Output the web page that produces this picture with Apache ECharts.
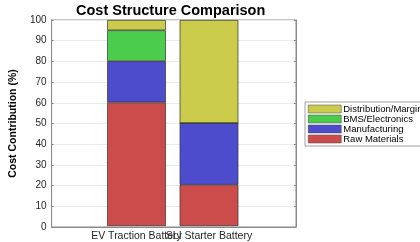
<!DOCTYPE html>
<html><head><meta charset="utf-8">
<script src="https://cdn.jsdelivr.net/npm/echarts@6/dist/echarts.min.js"></script>
<style>html,body{margin:0;padding:0;background:#fff}#c{width:420px;height:242px}</style>
</head><body><div id="c"></div>
<script>
const categories = ['EV Traction Battery', 'SLI Starter Battery'];
const rawMaterials = [60, 20];
const manufacturing = [20, 30];
const bmsElectronics = [15, 0];
const distribution = [5, 50];
const legendOrder = ['Distribution/Margin', 'BMS/Electronics', 'Manufacturing', 'Raw Materials'];

const seriesDefs = [
  { name: 'Raw Materials', data: rawMaterials, color: '#CC4C4C' },
  { name: 'Manufacturing', data: manufacturing, color: '#4C4CCC' },
  { name: 'BMS/Electronics', data: bmsElectronics, color: '#4CCC4C' },
  { name: 'Distribution/Margin', data: distribution, color: '#CCCC4C' }
];

const chart = echarts.init(document.getElementById('c'), null, { renderer: 'canvas' });
const font = 'Liberation Sans, Arial, Helvetica, sans-serif';
const axisCol = '#8a8a8a';
chart.setOption({
  animation: false,
  backgroundColor: '#fff',
  title: {
    text: 'Cost Structure Comparison', left: 72, top: 1, padding: [2, 4, 2, 4],
    textStyle: { fontFamily: font, fontWeight: 'bold', fontSize: 14.5, color: '#000', letterSpacing: 0.2 }
  },
  grid: [
    { left: 49, right: 124, top: 20, bottom: 15, show: true, borderColor: axisCol, borderWidth: 1, backgroundColor: '#fff' },
    { left: 100.25, right: 174.75, top: 20, bottom: 15 }
  ],
  legend: {
    orient: 'vertical', left: 305, top: 102,
    data: legendOrder,
    itemWidth: 33, itemHeight: 8, itemGap: 0, padding: [2, 3, 2, 3],
    borderColor: '#a0a0a0', borderWidth: 1, backgroundColor: '#fff',
    icon: 'rect',
    itemStyle: { borderColor: '#444', borderWidth: 0.5 },
    textStyle: { fontFamily: font, fontSize: 9.5, color: '#000', lineHeight: 10, padding: [0, 0, 0, -3] }
  },
  xAxis: [{
    gridIndex: 0, type: 'value', min: 0, max: 1,
    axisLine: { show: true, lineStyle: { color: axisCol } },
    splitLine: { show: false }, axisTick: { show: false }, axisLabel: { show: false }
  }, {
    gridIndex: 1, type: 'category', data: categories,
    axisLine: { show: false },
    axisTick: { show: true, inside: true, length: 2, alignWithLabel: true, lineStyle: { color: axisCol } },
    axisLabel: { interval: 0, margin: 5, fontFamily: font, fontSize: 10.5, color: '#262626', hideOverlap: false }
  }],
  yAxis: [{
    gridIndex: 0, type: 'value', min: 0, max: 100, interval: 10,
    name: 'Cost Contribution (%)', nameLocation: 'middle', nameGap: 25,
    nameTextStyle: { fontFamily: font, fontWeight: 'bold', fontSize: 10.5, color: '#000' },
    axisLine: { show: true, lineStyle: { color: axisCol } },
    axisTick: { show: true, inside: true, length: 2, lineStyle: { color: axisCol } },
    splitLine: { show: true, lineStyle: { color: '#ebebeb', width: 1 } },
    axisLabel: { fontFamily: font, fontSize: 10, color: '#262626', margin: 5 }
  }, {
    gridIndex: 0, type: 'value', min: 0, max: 100, interval: 10, position: 'right',
    axisLine: { show: true, lineStyle: { color: axisCol } },
    axisTick: { show: true, inside: true, length: 2, lineStyle: { color: axisCol } },
    axisLabel: { show: false }, splitLine: { show: false }
  }, {
    gridIndex: 1, type: 'value', min: 0, max: 100, interval: 10, show: false
  }],
  series: seriesDefs.map(s => ({
    name: s.name, type: 'bar', stack: 'total', barWidth: '81%',
    xAxisIndex: 1, yAxisIndex: 2,
    itemStyle: { color: s.color, borderColor: '#333', borderWidth: 0.7 },
    data: s.data
  }))
});
</script></body></html>
